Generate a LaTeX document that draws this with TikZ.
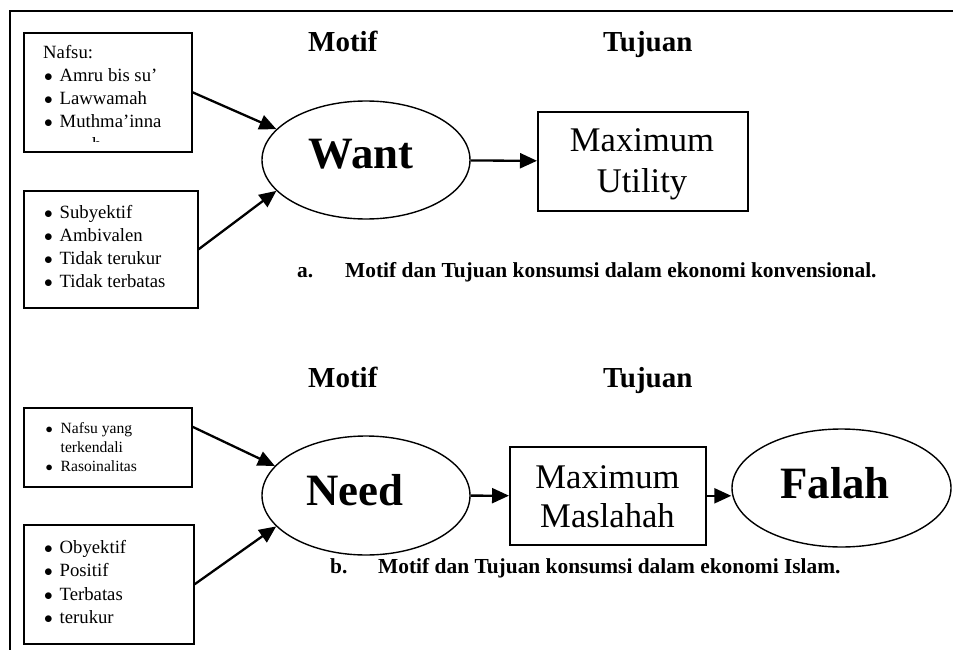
\documentclass[tikz,border=0pt]{standalone}
\usepackage{fontspec}
\setmainfont{Liberation Serif}
\usetikzlibrary{arrows.meta,shapes.geometric,calc}
\newcommand\fsz[1]{\fontsize{#1}{#1}\selectfont}
\newcommand\bul{\makebox[15.5pt][l]{$\bullet$}}
\begin{document}
\begin{tikzpicture}[x=1pt,y=-1pt,
  box/.style={draw,line width=1.6pt,inner sep=0pt,anchor=north west},
  oval/.style={draw,ellipse,line width=1.4pt,inner sep=0pt,minimum width=208pt,minimum height=118pt},
  arr/.style={line width=2.3pt,-{Triangle[length=17pt,width=15pt]}},
  txt/.style={anchor=base west,inner sep=0pt,font=\fsz{18.7}},
  stxt/.style={anchor=base west,inner sep=0pt,font=\fsz{15.6}},
  head/.style={anchor=base west,inner sep=0pt,font=\bfseries\fsz{29}},
  captxt/.style={anchor=base west,inner sep=0pt,font=\bfseries\fsz{21.4}},
  big/.style={anchor=base,inner sep=0pt,font=\bfseries\fsz{44.8}},
  mid/.style={anchor=base,inner sep=0pt,font=\fsz{34.6}}
]
\useasboundingbox (0,0) rectangle (953,650);
% outer frame
\draw[line width=1.3pt] (10,650) -- (10,11) -- (953,11);

% ---------- part a ----------
\node[head] (ha1) at (308,52) {Motif};
\node[head] (ha2) at (603,52) {Tujuan};

\node[box,minimum width=168pt,minimum height=119pt] (b1) at (23,32) {};
\node[txt] (b1t0) at (43,59) {Nafsu:};
\node[txt] (b1t1) at (44,82) {\bul Amru bis su’};
\node[txt] (b1t2) at (44,105) {\bul Lawwamah};
\node[txt] (b1t3) at (44,128) {\bul Muthma’inna};
\begin{scope}
\clip (25,34) rectangle (189,142);
\node[txt] (b1t4) at (92,150.5) {h};
\end{scope}

\node[box,minimum width=174pt,minimum height=117pt] (b2) at (23,190) {};
\node[txt] (b2t1) at (44,218) {\bul Subyektif};
\node[txt] (b2t2) at (44,241) {\bul Ambivalen};
\node[txt] (b2t3) at (44,264) {\bul Tidak terukur};
\node[txt] (b2t4) at (44,287) {\bul Tidak terbatas};

\node[oval] (want) at (366,160) {};
\node[big] (wantt) at (361,168) {Want};

\node[box,minimum width=210pt,minimum height=99pt] (util) at (537,111) {};
\node[mid] (util1) at (642,152) {Maximum};
\node[mid] (util2) at (642,193) {Utility};

\draw[arr] (b1.east) -- (want.161);
\draw[arr] (b2.east) -- (want.199);
\draw[arr] (want) -- (util);

\node[captxt] (capa1) at (297,277) {a.};
\node[captxt] (capa2) at (345,277) {Motif dan Tujuan konsumsi dalam ekonomi konvensional.};

% ---------- part b ----------
\node[head] (hb1) at (308,387) {Motif};
\node[head] (hb2) at (603,387) {Tujuan};

\node[box,minimum width=168pt,minimum height=79pt] (b3) at (23,407) {};
\node[stxt] (b3t1) at (45.5,433) {\makebox[15pt][l]{$\bullet$}Nafsu yang};
\node[stxt] (b3t2) at (60.5,452) {terkendali};
\node[stxt] (b3t3) at (45.5,471.5) {\makebox[15pt][l]{$\bullet$}Rasoinalitas};

\node[box,minimum width=170pt,minimum height=119pt] (b4) at (23,524) {};
\node[txt] (b4t1) at (44,553) {\bul Obyektif};
\node[txt] (b4t2) at (44,576.5) {\bul Positif};
\node[txt] (b4t3) at (44,600) {\bul Terbatas};
\node[txt] (b4t4) at (44,623) {\bul terukur};

\node[oval,minimum height=119pt] (need) at (366,495.5) {};
\node[big] (needt) at (355,505) {Need};

\node[box,minimum width=196pt,minimum height=98pt] (mas) at (509,446) {};
\node[mid] (mas1) at (607.5,488) {Maximum};
\node[mid] (mas2) at (607.5,527) {Maslahah};

\node[oval,minimum width=219pt] (falah) at (841.5,488) {};
\node[big] (falaht) at (835,498) {Falah};

\draw[arr] ([yshift=20.5pt]b3.east) -- (need.162);
\draw[arr] (b4.east) -- (need.199);
\draw[arr] (need) -- (mas);
\draw[arr] (mas.east) -- (mas.east -| falah.west);

\node[captxt] (capb1) at (330,573) {b.};
\node[captxt] (capb2) at (378,573) {Motif dan Tujuan konsumsi dalam ekonomi Islam.};
\end{tikzpicture}
\end{document}
